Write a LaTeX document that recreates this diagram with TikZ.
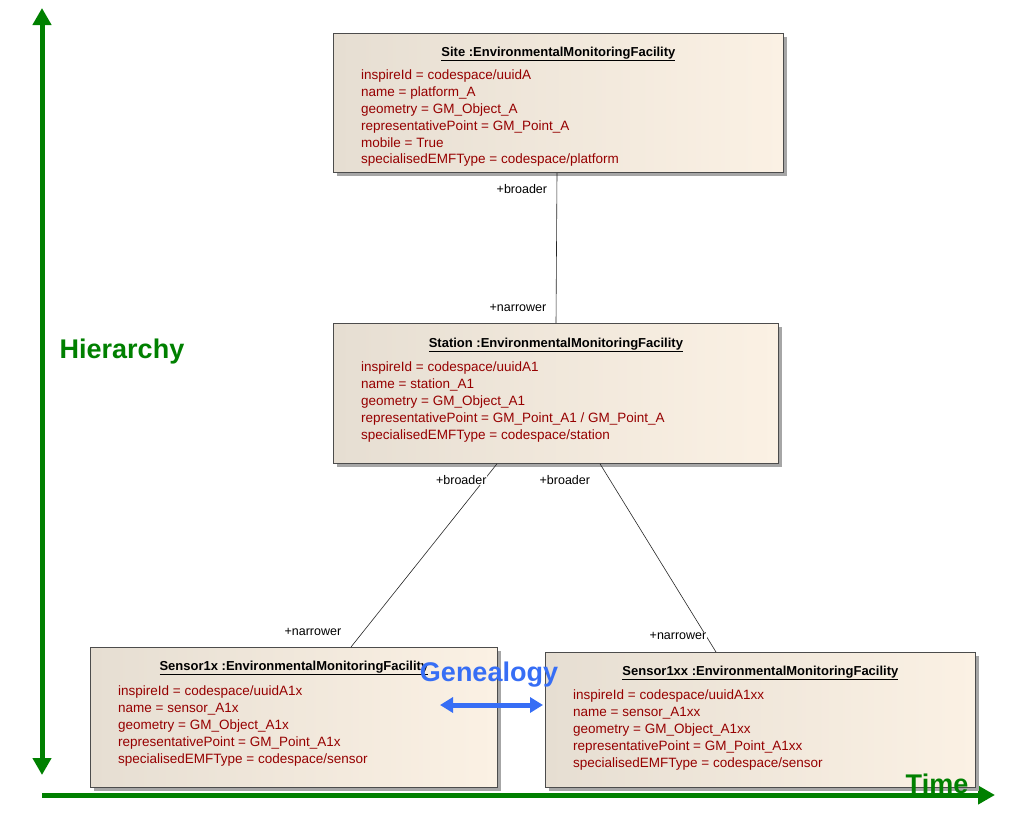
\documentclass[tikz,border=0pt]{standalone}
\usepackage{fontspec}
\setmainfont{Liberation Sans}
\usetikzlibrary{positioning,calc,arrows.meta,shadows}

\definecolor{attrred}{RGB}{150,0,0}
\definecolor{axisgreen}{RGB}{0,128,0}
\definecolor{genblue}{RGB}{55,110,245}
\definecolor{boxleft}{RGB}{230,222,210}
\definecolor{boxright}{RGB}{251,241,228}

\begin{document}
\begin{tikzpicture}[x=1pt,y=-1pt,
    umlbox/.style={draw=black!70, line width=0.8pt, left color=boxleft,
        right color=boxright, anchor=north west, inner sep=0pt,
        drop shadow={shadow xshift=4pt, shadow yshift=-4pt, fill=black!35, opacity=1}},
    umltitle/.style={font=\fontsize{13}{16}\selectfont\bfseries, inner sep=0pt},
    attrs/.style={font=\fontsize{13.5}{16.8}\selectfont, text=attrred,
        align=left, anchor=north west, inner sep=0pt},
    assoc/.style={draw=black!85, line width=0.6pt},
    role/.style={font=\fontsize{12.5}{15}\selectfont, inner sep=0.5pt, fill=white},
    biglabel/.style={font=\fontsize{27}{30}\selectfont\bfseries, inner sep=0pt},
    axis/.style={draw=axisgreen, line width=5pt}]
    \useasboundingbox (0,0) rectangle (1012,814);

    % Axes
    \coordinate (vtop) at (42,8);
    \coordinate (vbot) at (42,775);
    \coordinate (horig) at (42,795);
    \coordinate (hend) at (995,795);
    \draw[axis, {Triangle[width=18pt,length=17pt]}-{Triangle[width=18pt,length=17pt]}] (vbot) -- (vtop);
    \draw[axis, -{Triangle[width=18pt,length=17pt]}] (horig) -- (hend);

    % Site
    \node[umlbox, minimum width=450pt, minimum height=139pt] (site) at (333,33) {};
    \node[umltitle] (sitetitle) at ($(site.north)+(0,21)$) {\underline{Site :EnvironmentalMonitoringFacility}};
    \node[attrs] (siteattrs) at ($(site.north west)+(28,37)$) {inspireId = codespace/uuidA\\
        name = platform\_A\\
        geometry = GM\_Object\_A\\
        representativePoint = GM\_Point\_A\\
        mobile = True\\
        specialisedEMFType = codespace/platform};

    % Station
    \node[umlbox, minimum width=445pt, minimum height=140pt] (station) at (333,323) {};
    \node[umltitle] (stationtitle) at ($(station.north)+(0,22)$) {\underline{Station :EnvironmentalMonitoringFacility}};
    \node[attrs] (stationattrs) at ($(station.north west)+(28,39)$) {inspireId = codespace/uuidA1\\
        name = station\_A1\\
        geometry = GM\_Object\_A1\\
        representativePoint = GM\_Point\_A1 / GM\_Point\_A\\
        specialisedEMFType = codespace/station};

    % Sensor1x
    \node[umlbox, minimum width=407pt, minimum height=140pt] (sensorx) at (90,647) {};
    \node[umltitle] (sensorxtitle) at ($(sensorx.north)+(0,21)$) {\underline{Sensor1x :EnvironmentalMonitoringFacility}};
    \node[attrs] (sensorxattrs) at ($(sensorx.north west)+(28,39)$) {inspireId = codespace/uuidA1x\\
        name = sensor\_A1x\\
        geometry = GM\_Object\_A1x\\
        representativePoint = GM\_Point\_A1x\\
        specialisedEMFType = codespace/sensor};

    % Sensor1xx
    \node[umlbox, minimum width=430pt, minimum height=135pt] (sensorxx) at (545,652) {};
    \node[umltitle] (sensorxxtitle) at ($(sensorxx.north)+(0,21)$) {\underline{Sensor1xx :EnvironmentalMonitoringFacility}};
    \node[attrs] (sensorxxattrs) at ($(sensorxx.north west)+(28,38)$) {inspireId = codespace/uuidA1xx\\
        name = sensor\_A1xx\\
        geometry = GM\_Object\_A1xx\\
        representativePoint = GM\_Point\_A1xx\\
        specialisedEMFType = codespace/sensor};

    % Associations
    \draw[assoc] ($(site.south west)+(224,0)$) -- ($(station.north west)+(223,0)$)
        node[role, pos=0.106, anchor=east, xshift=-9pt] {+broader}
        node[role, pos=0.9, anchor=east, xshift=-9pt] {+narrower};
    \draw[assoc] ($(station.south west)+(164,0)$) -- ($(sensorx.north west)+(261,0)$)
        node[role, pos=0.087, anchor=east, xshift=3pt] {+broader}
        node[role, pos=0.918, anchor=east, xshift=-21pt] {+narrower};
    \draw[assoc] ($(station.south west)+(267,0)$) -- ($(sensorxx.north west)+(171,0)$)
        node[role, pos=0.085, anchor=east, xshift=-19pt] {+broader}
        node[role, pos=0.915, anchor=east, xshift=1pt] {+narrower};

    % Labels
    \node[biglabel, text=axisgreen] (hier) at (122,352) {Hierarchy};
    \node[biglabel, text=axisgreen] (time) at (937,784) {Time};
    \node[biglabel, text=genblue] (gen) at (489,675) {Genealogy};

    % Genealogy arrow
    \coordinate (gleft) at (440,705);
    \coordinate (gright) at (543,705);
    \draw[draw=genblue, line width=5pt, {Triangle[width=15pt,length=13pt]}-{Triangle[width=15pt,length=13pt]}] (gleft) -- (gright);
\end{tikzpicture}
\end{document}
